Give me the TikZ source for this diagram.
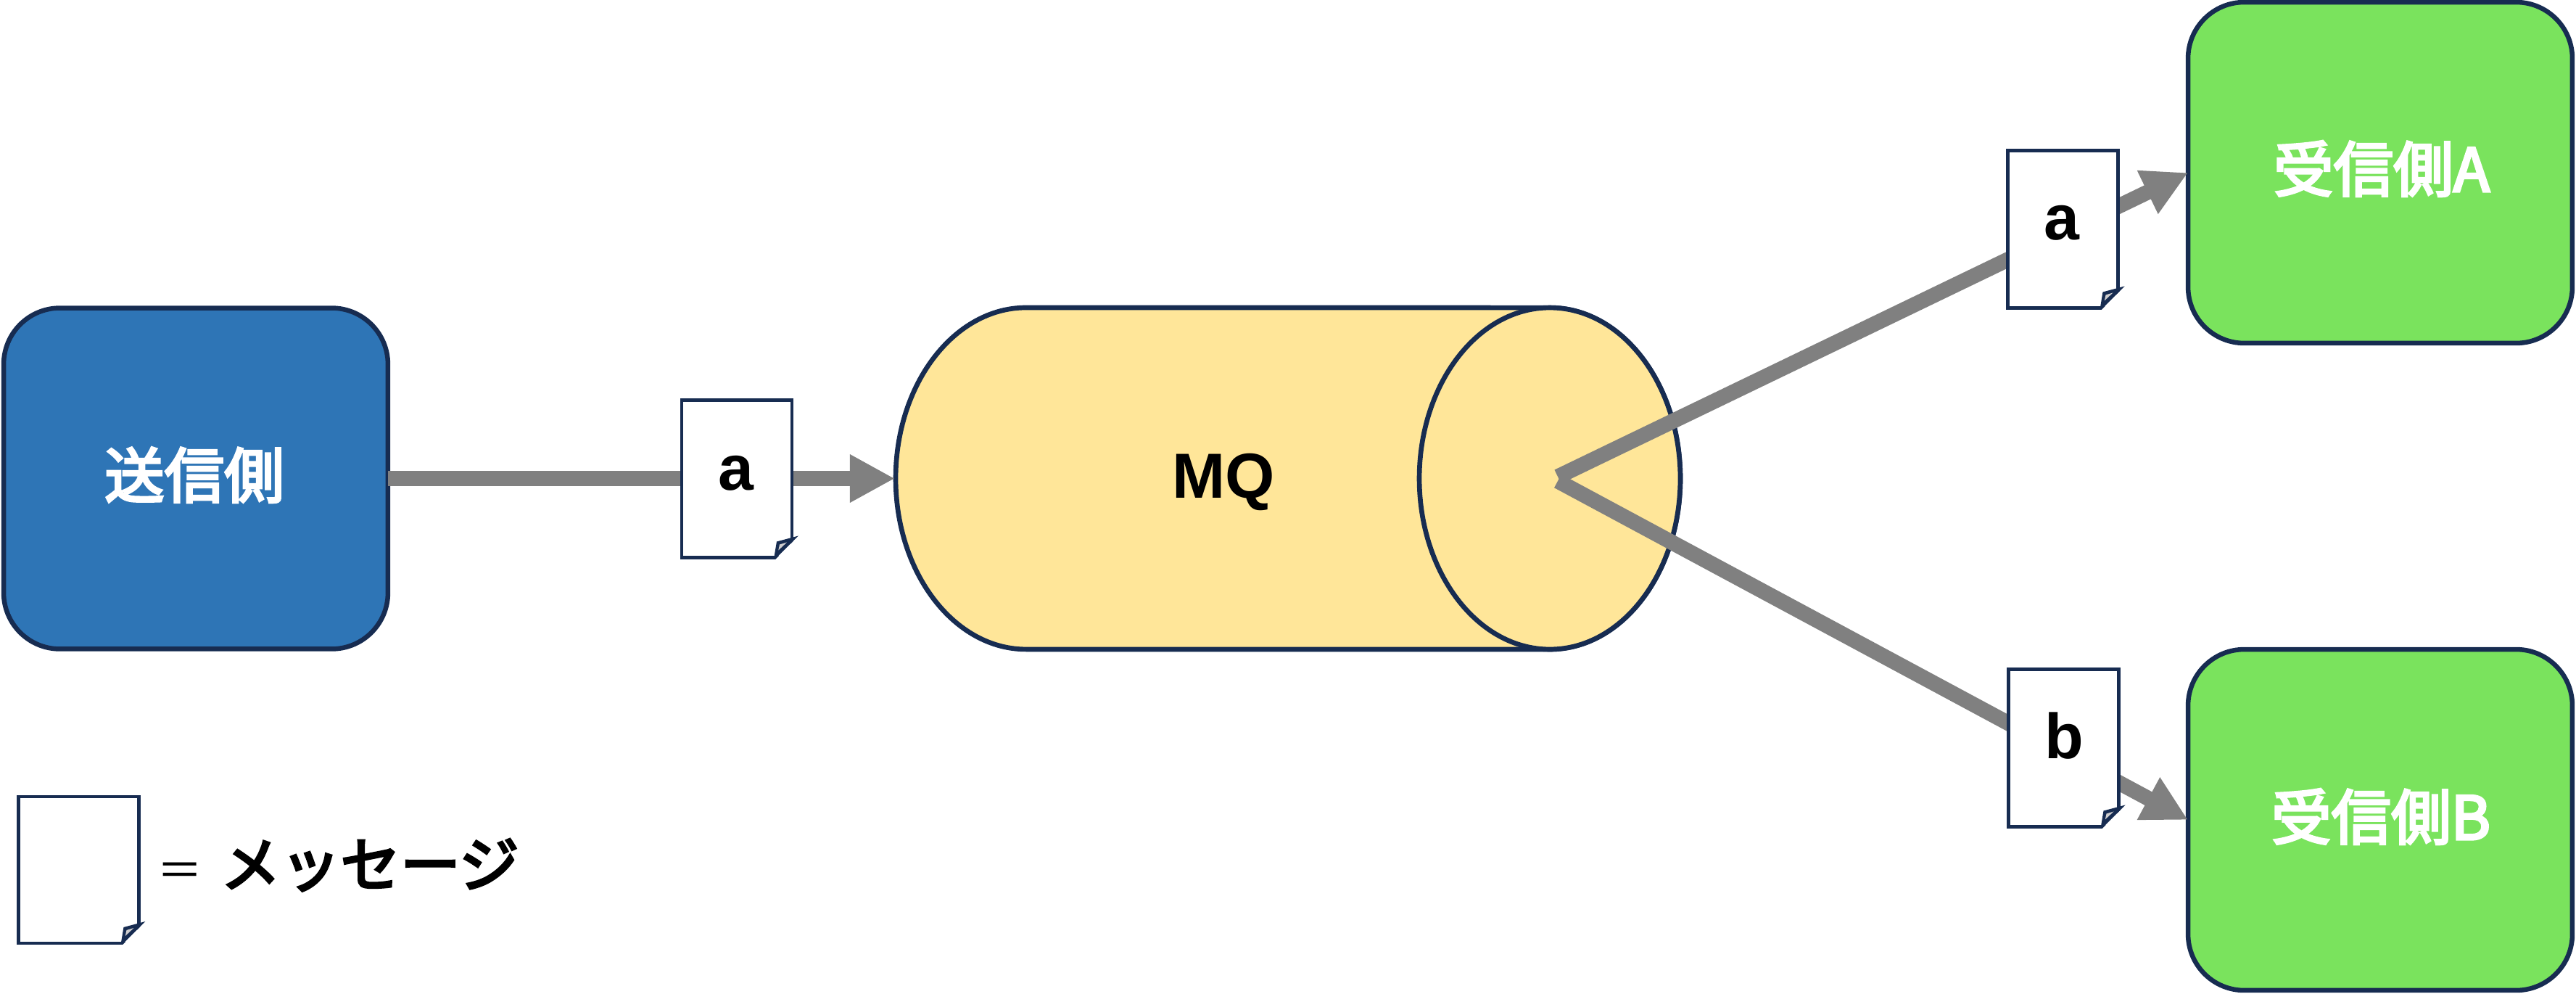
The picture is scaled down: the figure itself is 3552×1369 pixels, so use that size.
\documentclass[tikz,border=0pt]{standalone}
\usepackage{fontspec}
\setmainfont{Noto Sans CJK JP}
\newfontfamily\latinfont{Liberation Sans}
\newcommand{\heavier}[1]{\special{pdf:code 2 Tr 1.9 w}#1\special{pdf:code 0 Tr}}
\usetikzlibrary{arrows.meta, positioning}
\definecolor{navyline}{HTML}{172C51}
\definecolor{senderblue}{HTML}{2E75B6}
\definecolor{receivergreen}{HTML}{7AE35D}
\definecolor{mqyellow}{HTML}{FFE699}
\definecolor{foldgray}{HTML}{D0CECE}
\tikzset{
    endbox/.style={rectangle, draw=navyline, line width=3.7pt, rounded corners=1.55cm,
        minimum width=10.6cm, minimum height=9.4cm, inner sep=0pt, outer sep=0pt},
    msgdoc/.style={rectangle, draw=navyline, fill=white, line width=2.8pt,
        minimum width=3.04cm, minimum height=4.34cm, inner sep=0pt, outer sep=0pt},
    flow/.style={draw=gray, line width=11.95pt, -{Triangle[length=35.3pt, width=35.3pt]}},
    boxtext/.style={anchor=base, inner sep=0pt, font=\fontsize{47pt}{56pt}\selectfont},
    lettertext/.style={anchor=base, inner sep=0pt, font=\fontsize{50pt}{60pt}\latinfont\bfseries},
}

\begin{document}
\begin{tikzpicture}[x=0.02cm, y=-0.02cm]
    \useasboundingbox (0,0) rectangle (3552,1369);

    % The queue
    \draw[navyline, fill=mqyellow, line width=3.8pt] (1415,424)
        arc[start angle=90, end angle=270, x radius=3.6cm, y radius=4.71cm] -- (2137,895)
        arc[start angle=-90, end angle=90, x radius=3.6cm, y radius=4.71cm] -- cycle;
    \draw[navyline, fill=mqyellow, line width=3.8pt] (2137,659.5) ellipse[x radius=3.6cm, y radius=4.71cm];
    \coordinate (mqin) at (1234,659.5);
    \coordinate (hubA) at (2148,657);
    \coordinate (hubB) at (2148,663);

    % Sender and receivers
    \node[endbox, fill=senderblue] (sender) at (270,659.5) {};
    \node[endbox, fill=receivergreen] (receiverA) at (3282,238) {};
    \node[endbox, fill=receivergreen] (receiverB) at (3282,1130) {};

    % Arrows
    \draw[flow] (sender.east) -- (mqin);
    \draw[flow] (hubA) -- (receiverA.west);
    \draw[flow] (hubB) -- (receiverB.west);

    % Messages
    \node[msgdoc] (docIn) at (1016,660) {};
    \node[msgdoc] (docA) at (2844.5,316) {};
    \node[msgdoc] (docB) at (2845.5,1031) {};
    \node[msgdoc, minimum width=3.32cm, minimum height=4.04cm] (docKey) at (108.5,1199) {};

    % Folded corners
    \foreach \doc in {docIn, docA, docB, docKey} {
        \begin{scope}[shift={(\doc.south east)}]
            \fill[white] (-23,3) -- (10,-31) -- (6,3) -- cycle;
            \fill[navyline] (-25,2) -- (-21,-22) -- (9,-30) -- (-23,2) -- cycle;
            \fill[foldgray] (-18.7,-10) -- (-17,-18) -- (-7,-21) -- cycle;
        \end{scope}
    }

    % Labels
    \node[boxtext, text=white] (senderlabel) at (268,686) {\heavier{送信側}};
    \node[boxtext, text=white] (labelA) at (3284,264) {\heavier{受信側A}};
    \node[boxtext, text=white] (labelB) at (3283,1157) {\heavier{受信側B}};
    \node[lettertext] (mq) at (1687.5,686) {MQ};
    \node[lettertext] (letterIn) at (1015,675) {a};
    \node[lettertext] (letterA) at (2843,330) {a};
    \node[lettertext] (letterB) at (2846,1045) {b};

    % Legend
    \node[anchor=base, inner sep=0pt, font=\fontsize{36pt}{44pt}\selectfont] (keyequal) at (248,1222) {＝};
    \node[boxtext, anchor=base west] (keytext) at (304,1222) {\heavier{メッセージ}};
\end{tikzpicture}
\end{document}
